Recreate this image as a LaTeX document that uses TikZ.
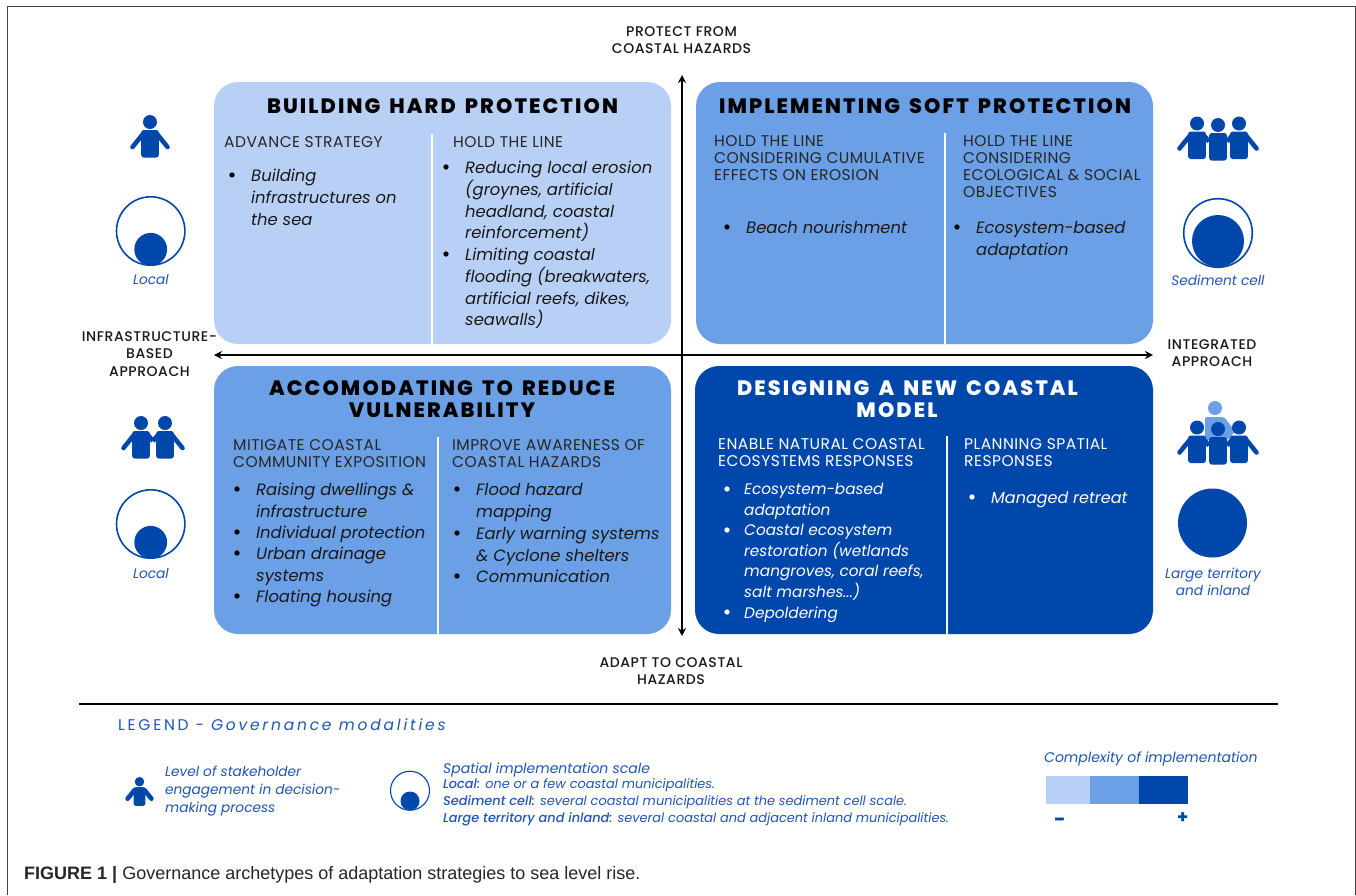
\documentclass[tikz,border=0pt]{standalone}
\usepackage{fontspec}
\usetikzlibrary{arrows.meta,calc}
\setmainfont{Poppins}
\newfontfamily\capfont{Liberation Sans}
\newfontfamily\ttlfont[LetterSpace=10,WordSpace=1.5]{Poppins ExtraBold}
\newfontfamily\hdfont[LetterSpace=3]{Poppins}
\newfontfamily\axfont[LetterSpace=4]{Poppins Medium}
\newfontfamily\medfont{Poppins Medium}
\newfontfamily\lgfont[LetterSpace=18]{Poppins}
\definecolor{lb}{HTML}{B8D0F5}
\definecolor{mb}{HTML}{6B9FE6}
\definecolor{db}{HTML}{0047AB}
\definecolor{lt}{HTML}{1F55B5}
\tikzset{
 panel/.style={rounded corners=24pt,draw=none,inner sep=0pt},
 ttl/.style={font=\ttlfont\fontsize{20.8}{22}\selectfont,align=center,inner sep=0pt,anchor=center},
 hd/.style={font=\hdfont\fontsize{15.5}{17}\selectfont,align=left,inner sep=0pt,anchor=north west,text=black!85,execute at begin node={\rule{0pt}{12pt}}},
 itm/.style={font=\fontsize{16.4}{21.7}\selectfont\itshape,align=left,inner sep=0pt,anchor=north west,text=black!90,execute at begin node={\rule{0pt}{12pt}}},
 itmw/.style={font=\fontsize{15.3}{20.6}\selectfont\itshape,align=left,inner sep=0pt,anchor=north west,text=white,execute at begin node={\rule{0pt}{12pt}}},
 hdw/.style={hd,text=white},
 bul/.style={circle,fill=black,inner sep=0pt,minimum size=5.3pt},
 bulw/.style={bul,fill=white},
 axl/.style={font=\axfont\fontsize{14}{17.3}\selectfont,align=center,inner sep=0pt,text=black!90},
 scl/.style={font=\fontsize{13.7}{17.5}\selectfont\itshape,align=center,inner sep=0pt,text=lt},
 leg/.style={font=\fontsize{13.7}{18}\selectfont\itshape,align=left,inner sep=0pt,anchor=north west,text=lt},
 sep/.style={white,line width=2pt},
 arr/.style={-{Stealth[length=8pt,width=8pt]},line width=1.7pt,black},
}
% #1 x centre, #2 head y, #3 colour
\newcommand{\phead}[3]{\fill[#3] (#1,#2) circle (7);}
\newcommand{\ptorso}[3]{\fill[#3,rounded corners=2.5pt] ($(#1,#2)+(-8.8,8)$) rectangle ($(#1,#2)+(8.8,35.5)$);}
\newcommand{\parm}[4]{\draw[#4,line width=4.6pt,line cap=round] ($(#1,#2)+(#3*7,12)$) -- ($(#1,#2)+(#3*17.5,25)$);}
\newcommand{\pinner}[4]{\draw[#4,line width=4.6pt] ($(#1,#2)+(#3*6,11)$) -- ($(#1,#2)+(#3*12,18)$);}
\begin{document}
\begin{tikzpicture}[x=1pt,y=-1pt]
\useasboundingbox (0,0) rectangle (1356,895);
\fill[white] (0,0) rectangle (1356,895);
\draw[black!75,line width=1pt] (7,895) -- (7,6.5) -- (1355,6.5) -- (1355,895);
% panels
\node[panel,fill=lb,minimum width=457pt,minimum height=262pt] (p1) at (442.5,213) {};
\node[panel,fill=mb,minimum width=457pt,minimum height=262pt] (p2) at (924.5,213) {};
\node[panel,fill=mb,minimum width=457pt,minimum height=268pt] (p3) at (442.5,500) {};
\node[panel,fill=db,minimum width=458pt,minimum height=268pt] (p4) at (924,500) {};
% separators
\draw[sep] (431.5,134) -- (431.5,344);
\draw[sep] (944.5,133) -- (944.5,344);
\draw[sep] (438,437) -- (438,634);
\draw[sep] (947,436) -- (947,634);
% axes
\coordinate (aC) at (682,355);
\coordinate (aT) at (682,75); \coordinate (aB) at (682,636);
\coordinate (aL) at (214,355); \coordinate (aR) at (1153,355);
\draw[arr] (aC) -- (aT);
\draw[arr] (aC) -- (aB);
\draw[arr] (aC) -- (aL);
\draw[arr] (aC) -- (aR);
% axis labels
\node[axl] (lT) at (681.5,40) {PROTECT FROM\\COASTAL HAZARDS};
\node[axl] (lB) at (671,671) {ADAPT TO COASTAL\\HAZARDS};
\node[axl] (lL) at (149.5,354) {INFRASTRUCTURE-\\BASED\\APPROACH};
\node[axl] (lR) at (1212,353) {INTEGRATED\\APPROACH};
% titles
\node[ttl] (t1) at (442.5,106) {BUILDING HARD PROTECTION};
\node[ttl] (t2) at (925,106) {IMPLEMENTING SOFT PROTECTION};
\node[ttl] (t3) at (442,399) {ACCOMODATING TO REDUCE\\VULNERABILITY};
\node[ttl,text=white] (t4) at (907.5,399) {DESIGNING A NEW COASTAL\\MODEL\rule{21pt}{0pt}};
% panel 1
\node[hd] (h11) at (224,135.5) {ADVANCE STRATEGY};
\node[bul] (b111) at (232,175) {};
\node[itm] (i111) at (251,169) {Building\\infrastructures on\\the sea};
\node[hd] (h12) at (453,135.5) {HOLD THE LINE};
\node[bul] (b121) at (446,167) {};
\node[itm] (i121) at (465,161) {Reducing local erosion\\(groynes, artificial\\headland, coastal\\reinforcement)};
\node[bul] (b122) at (446,254) {};
\node[itm] (i122) at (465,248) {Limiting coastal\\flooding (breakwaters,\\artificial reefs, dikes,\\seawalls)};
% panel 2
\node[hd] (h21) at (714,135.5) {HOLD THE LINE\\CONSIDERING CUMULATIVE\\EFFECTS ON EROSION};
\node[bul] (b211) at (727,227) {};
\node[itm] (i211) at (746,221) {Beach nourishment};
\node[hd] (h22) at (963,135.5) {HOLD THE LINE\\CONSIDERING\\ECOLOGICAL \& SOCIAL\\OBJECTIVES};
\node[bul] (b221) at (957,227) {};
\node[itm] (i221) at (976,221) {Ecosystem-based\\adaptation};
% panel 3
\node[hd] (h31) at (233,439) {MITIGATE COASTAL\\COMMUNITY EXPOSITION};
\node[bul] (b311) at (237,489) {};
\node[itm] (i311) at (256,483) {Raising dwellings \&\\infrastructure};
\node[bul] (b312) at (237,532) {};
\node[itm] (i312) at (256,526) {Individual protection};
\node[bul] (b313) at (237,553) {};
\node[itm] (i313) at (256,547) {Urban drainage\\systems};
\node[bul] (b314) at (237,596) {};
\node[itm] (i314) at (256,590) {Floating housing};
\node[hd] (h32) at (452,439) {IMPROVE AWARENESS OF\\COASTAL HAZARDS};
\node[bul] (b321) at (457,489) {};
\node[itm] (i321) at (476,483) {Flood hazard\\mapping};
\node[bul] (b322) at (457,533) {};
\node[itm] (i322) at (476,527) {Early warning systems\\\& Cyclone shelters};
\node[bul] (b323) at (457,576) {};
\node[itm] (i323) at (476,570) {Communication};
% panel 4
\node[hdw] (h41) at (718,438.5) {ENABLE NATURAL COASTAL\\ECOSYSTEMS RESPONSES};
\node[bulw] (b411) at (727,489) {};
\node[itmw] (i411) at (744,483) {Ecosystem-based\\adaptation};
\node[bulw] (b412) at (727,530) {};
\node[itmw] (i412) at (744,524) {Coastal ecosystem\\restoration (wetlands\\mangroves, coral reefs,\\salt marshes...)};
\node[bulw] (b413) at (727,612) {};
\node[itmw] (i413) at (744,606) {Depoldering};
\node[hdw] (h42) at (964,438.5) {PLANNING SPATIAL\\RESPONSES};
\node[bulw] (b421) at (972,497) {};
\node[itmw,font=\fontsize{16}{20.6}\selectfont\itshape] (i421) at (991,491) {Managed retreat};
% person icons
% single
\parm{150}{122}{-1}{db}\parm{150}{122}{1}{db}\ptorso{150}{122}{db}\phead{150}{122}{db}
% two
\parm{141}{423}{-1}{db}\parm{165}{423}{1}{db}
\pinner{141}{423}{1}{db}\pinner{165}{423}{-1}{db}
\ptorso{141}{423}{db}\phead{141}{423}{db}
\ptorso{165}{423}{db}\phead{165}{423}{db}
% three
\parm{1197}{123.5}{-1}{db}\parm{1239}{123.5}{1}{db}
\pinner{1197}{123.5}{1}{db}\pinner{1239}{123.5}{-1}{db}
\ptorso{1197}{123.5}{db}\phead{1197}{123.5}{db}
\ptorso{1239}{123.5}{db}\phead{1239}{123.5}{db}
\ptorso{1218}{125}{db}\phead{1218}{125}{db}
% four
\fill[mb,rounded corners=2pt] (1205,417) -- (1224,417) -- (1235,431) -- (1228,440) -- (1205,440) -- cycle;
\phead{1215}{408}{mb}
\parm{1197}{427.5}{-1}{db}\parm{1239}{427.5}{1}{db}
\pinner{1197}{427.5}{1}{db}\pinner{1239}{427.5}{-1}{db}
\ptorso{1197}{427.5}{db}\phead{1197}{427.5}{db}
\ptorso{1239}{427.5}{db}\phead{1239}{427.5}{db}
\ptorso{1218}{429}{db}\phead{1218}{429}{db}
% scale icons
\draw[db,line width=1.6pt] (150.7,231) circle (34.2);
\fill[db] (150.7,249.3) circle (16.4);
\node[scl] (s1) at (151,279) {Local};
\draw[db,line width=1.6pt] (150.7,524) circle (34.2);
\fill[db] (150.7,542.3) circle (16.4);
\node[scl] (s3) at (151,573) {Local};
\fill[db] (1218,241) circle (26);
\draw[db,line width=1.6pt] (1218,233) circle (34.3);
\node[scl] (s2) at (1218,280) {Sediment cell};
\fill[db] (1212.5,523) circle (34.5);
\node[scl] (s4) at (1213,582) {Large territory\\and inland};
% legend
\draw[black,line width=1.6pt] (79,704) -- (1278,704);
\node[inner sep=0pt,anchor=west,text=lt,font=\lgfont\fontsize{15.5}{18}\selectfont] (lg) at (118,725) {LEGEND - \textit{Governance modalities}};
\begin{scope}[shift={(139.5,781.7)},scale=0.68]
\parm{0}{0}{-1}{db}\parm{0}{0}{1}{db}\ptorso{0}{0}{db}\phead{0}{0}{db}
\end{scope}
\node[leg,execute at begin node={\rule{0pt}{12pt}}] (l1) at (165,766) {Level of stakeholder\\engagement in decision-\\making process};
\draw[db,line width=1.1pt] (410,790.7) circle (19.5);
\fill[db] (410,801) circle (9.5);
\node[leg,font=\fontsize{14}{17}\selectfont\itshape,execute at begin node={\rule{0pt}{12pt}}] (l2a) at (443,761) {Spatial implementation scale};
\node[leg,font=\fontsize{12.9}{17.2}\selectfont\itshape,execute at begin node={\rule{0pt}{12pt}}] (l2) at (443,778.5) {{\medfont\itshape Local:} one or a few coastal municipalities.\\{\medfont\itshape Sediment cell:} several coastal municipalities at the sediment cell scale.\\{\medfont\itshape Large territory and inland:} several coastal and adjacent inland municipalities.};
\node[scl,anchor=west,font=\fontsize{14}{17}\selectfont\itshape] (l3) at (1044,759) {Complexity of implementation};
\fill[lb] (1045.7,776) rectangle (1090,804);
\fill[mb] (1090,776) rectangle (1138.5,804);
\fill[db] (1138.5,776) rectangle (1188,804);
\node[inner sep=0pt,font=\fontsize{20}{20}\selectfont\bfseries,text=db] (mn) at (1060,822) {-};
\node[inner sep=0pt,font=\fontsize{18}{18}\selectfont\bfseries,text=db] (pl) at (1182.7,818) {+};
% caption
\node[inner sep=0pt,anchor=west,font=\capfont\fontsize{18}{20}\selectfont,text=black!85] (cap) at (24,875) {\textbf{FIGURE 1 |} Governance archetypes of adaptation strategies to sea level rise.};
\end{tikzpicture}
\end{document}
